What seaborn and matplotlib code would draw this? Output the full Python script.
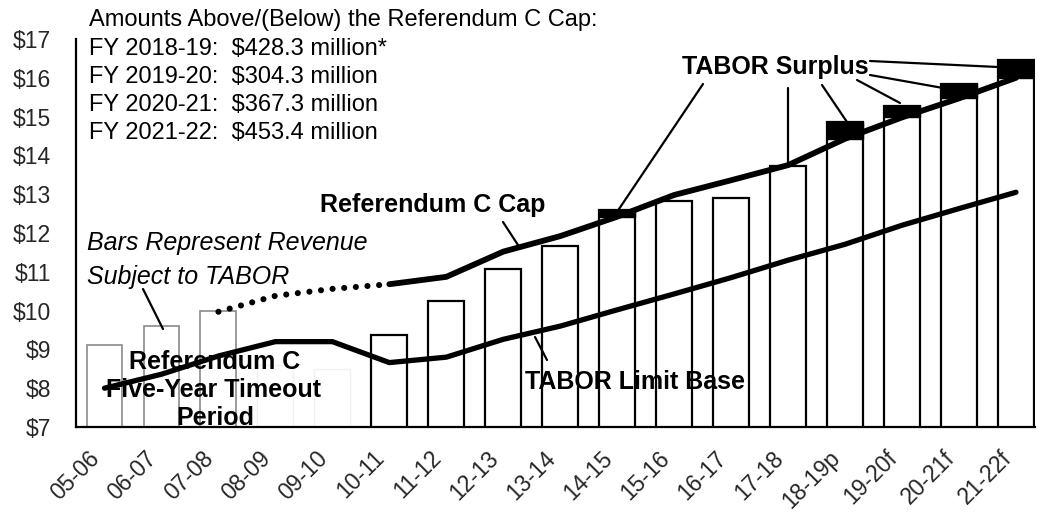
import numpy as np
import pandas as pd
import matplotlib
matplotlib.use("Agg")
import matplotlib.pyplot as plt
from matplotlib.lines import Line2D
import seaborn as sns

# ---------------- data ----------------
years = ["05-06", "06-07", "07-08", "08-09", "09-10", "10-11", "11-12", "12-13",
         "13-14", "14-15", "15-16", "16-17", "17-18", "18-19p", "19-20f", "20-21f", "21-22f"]
revenue = [9.11, 9.60, 10.00, 8.60, 8.50, 9.38, 10.24, 11.07, 11.67, 12.59,
           12.83, 12.89, 13.72, 14.86, 15.28, 15.84, 16.45]
# Referendum C cap during the five-year timeout (dotted), FY 07-08 .. 10-11
cap_timeout_idx = [2, 3, 4, 5]
cap_timeout = [9.97, 10.38, 10.56, 10.68]
# Referendum C cap (solid), FY 10-11 .. 21-22
cap_idx = [5, 6, 7, 8, 9, 10, 11, 12, 13, 14, 15, 16]
cap = [10.68, 10.87, 11.52, 11.92, 12.42, 12.98, 13.36, 13.75, 14.43, 14.98, 15.47, 16.00]
# TABOR limit base
limit_base = [8.00, 8.36, 8.83, 9.20, 9.20, 8.66, 8.80, 9.26, 9.60, 10.02,
              10.43, 10.85, 11.30, 11.71, 12.20, 12.63, 13.05]
surplus_idx = [9, 13, 14, 15, 16]
y_ticks = [7, 8, 9, 10, 11, 12, 13, 14, 15, 16, 17]
header = "Amounts Above/(Below) the Referendum C Cap:"
fy_lines = ["FY 2018-19:  \\$428.3 million*",
            "FY 2019-20:  \\$304.3 million",
            "FY 2020-21:  \\$367.3 million",
            "FY 2021-22:  \\$453.4 million"]

# ---------------- style ----------------
sns.set_theme(style="white")
plt.rcParams["font.family"] = ["Liberation Sans", "DejaVu Sans"]

W, H = 1037, 514
fig = plt.figure(figsize=(W / 100, H / 100), dpi=100)
ax = fig.add_axes([76 / W, 1 - 427 / H, (1035 - 76) / W, (427 - 39) / H])

df = pd.DataFrame({"year": years, "revenue": revenue})
sns.barplot(data=df, x="year", y="revenue", color="white", saturation=1,
            edgecolor="black", linewidth=1.6, width=0.63, ax=ax, zorder=1)
# early bars are faint in the source
for i, p in enumerate(ax.patches):
    if i < 3:
        p.set_edgecolor("#8a8a8a")
        p.set_linewidth(1.2)
    elif i < 5:
        p.set_edgecolor("#f0f0f0")
        p.set_linewidth(1.0)

# surplus blocks (revenue above the cap)
cap_map = dict(zip(cap_idx, cap))
s_bottom = [cap_map[i] for i in surplus_idx]
s_height = [revenue[i] - cap_map[i] for i in surplus_idx]
ax.bar(surplus_idx, s_height, bottom=s_bottom, width=0.63, color="black",
       edgecolor="black", linewidth=1, zorder=2)

# lines
sns.lineplot(x=cap_idx, y=cap, color="black", lw=4.2, ax=ax, sort=False,
             solid_capstyle="round", zorder=3)
sns.lineplot(x=list(range(len(years))), y=limit_base, color="black", lw=3.8, ax=ax,
             sort=False, solid_capstyle="round", zorder=3)
ax.plot(cap_timeout_idx, cap_timeout, color="black", lw=4.4,
        linestyle=(0, (0.01, 1.9)), dash_capstyle="round", zorder=3)

ax.set_ylim(7, 17)
ax.set_xlim(-0.5, (1035 - 104) / 57)
ax.set_yticks(y_ticks)
ax.set_yticklabels(["\\$%d" % v for v in y_ticks], fontsize=16.5)
ax.set_xticks(range(len(years)))
ax.set_xticklabels(years, rotation=45, ha="right", va="top", fontsize=16.5)
ax.tick_params(axis="y", length=0, pad=18)
ax.tick_params(axis="x", length=0, pad=14)
ax.set_xlabel("")
ax.set_ylabel("")
for s in ["top", "right"]:
    ax.spines[s].set_visible(False)
for s in ["left", "bottom"]:
    ax.spines[s].set_color("black")
    ax.spines[s].set_linewidth(1.6)


def fp(x, y):
    return (x / W, 1 - y / H)


def txt(x, y, s, **kw):
    kw.setdefault("va", "center")
    kw.setdefault("ha", "left")
    fig.text(*fp(x, y), s, color="black", zorder=5, **kw)


def seg(x0, y0, x1, y1, lw=1.6):
    fig.add_artist(Line2D([x0 / W, x1 / W], [1 - y0 / H, 1 - y1 / H],
                          transform=fig.transFigure, color="black", lw=lw, zorder=4))


# header block
txt(89, 20, header, fontsize=17)
for k, line in enumerate(fy_lines):
    txt(89, 49 + 28 * k, line, fontsize=17)

# annotations
txt(433, 205, "Referendum C Cap", fontsize=18, weight="bold", ha="center")
seg(503, 222, 518, 245)

txt(87, 243, "Bars Represent Revenue", fontsize=18, style="italic")
txt(87, 277, "Subject to TABOR", fontsize=18, style="italic")
seg(143, 289, 163, 329)

txt(215, 362, "Referendum C", fontsize=18, weight="bold", ha="center")
txt(214, 390, "Five-Year Timeout", fontsize=18, weight="bold", ha="center")
txt(215, 418, "Period", fontsize=18, weight="bold", ha="center")

txt(635, 382, "TABOR Limit Base", fontsize=18, weight="bold", ha="center")
seg(535, 337, 547, 360)

txt(775, 67, "TABOR Surplus", fontsize=18, weight="bold", ha="center")
seg(703, 84, 617, 212)
seg(788, 88, 788, 163)
seg(822, 85, 847, 122)
seg(857, 80, 900, 103)
seg(870, 75, 943, 88)
seg(870, 61, 998, 67)

fig.savefig("out.png", dpi=100)
